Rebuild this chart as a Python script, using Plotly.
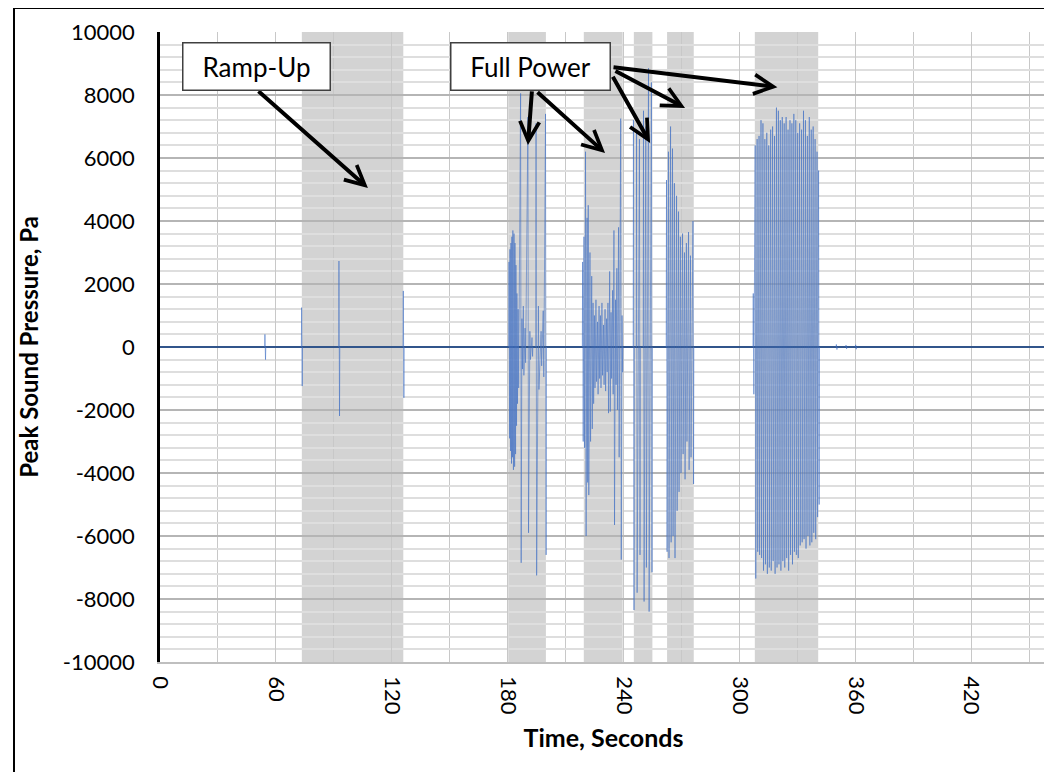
import plotly.graph_objects as go

# ---------------- data ----------------
# isolated / burst spikes of peak sound pressure (time s, positive peak Pa, negative peak Pa)
spike_times = [
    54.3, 73.3, 92.6, 125.9,
    180.6, 181.1, 181.6, 182.1, 182.6, 183.2, 183.7, 184.2, 184.7, 185.3,
    186.6, 187.3, 188.0, 188.9, 190.4, 191.4, 192.5, 194.6, 195.8, 197.2, 198.3, 199.5,
    218.7, 219.4, 220.2, 221.0, 221.6, 222.5, 223.4, 224.1, 224.8, 225.6, 226.4, 227.2,
    227.9, 228.7, 229.5, 230.3, 231.1, 231.8, 232.7, 233.4, 234.2, 234.9, 235.7, 236.4,
    237.3, 238.4, 239.1,
    245.0, 246.6, 248.1, 250.2, 251.4, 252.8, 254.3,
    262.1, 263.1, 264.2, 265.2, 266.2, 267.3, 268.3, 269.3, 270.4, 271.4, 272.4, 273.5,
    274.5, 275.8,
    307.0, 308.0, 309.0, 310.0, 311.0, 312.0, 313.0, 314.0, 315.0, 316.0, 317.0, 318.0,
    319.0, 320.0, 321.0, 322.0, 323.0, 324.0, 325.0, 326.0, 327.0, 328.0, 329.0, 330.0,
    331.0, 332.0, 333.0, 334.0, 335.0, 336.0, 337.0, 338.0, 339.0, 340.0, 340.8,
    350.0, 355.0, 360.0,
]
spike_pos = [
    400, 1250, 2730, 1780,
    2700, 3100, 3300, 3500, 3700, 3600, 3300, 2600, 1700, 1200,
    8050, 900, 1300, 600, 7300, 500, 300, 7100, 1300, 500, 1150, 7400,
    2700, 3500, 6200, 4100, 4500, 3000, 2250, 1400, 1000, 1500, 800, 1300,
    1000, 1400, 700, 1200, 900, 1400, 2400, 1100, 1800, 3700, 1500, 2500,
    3800, 7250, 1000,
    7200, 6900, 6600, 7500, 7000, 8850, 8400,
    5300, 6200, 7000, 6300, 5200, 4800, 4300, 3500, 3600, 3000, 3300, 3650,
    2900, 4000,
    1700, 6400, 6600, 6700, 7200, 7100, 6600, 6800, 6400, 6900, 7000, 6700,
    7600, 7500, 7200, 7300, 7100, 7300, 6900, 7200, 7100, 7400, 7200, 6800,
    7100, 6900, 7500, 7200, 6700, 7300, 6900, 7000, 6600, 6200, 5600,
    80, 60, 70,
]
spike_neg = [
    -400, -1240, -2190, -1610,
    -2900, -3300, -3700, -3500, -3900, -3800, -3400, -2500, -1800, -1300,
    -6850, -700, -900, -500, -5900, -400, -300, -7250, -1350, -600, -950, -6600,
    -3000, -3200, -6000, -4300, -4700, -3000, -2600, -1800, -1300, -1100, -1500, -1000,
    -1300, -900, -1200, -1400, -800, -2100, -2050, -1000, -1500, -5650, -1200, -2000,
    -3500, -6750, -800,
    -8350, -7800, -6600, -8080, -7000, -8400, -7150,
    -6500, -6700, -6200, -6000, -6700, -5200, -4600, -4000, -3400, -4200, -3000, -3900,
    -3500, -4350,
    -1500, -7350, -6500, -6600, -6700, -7100, -6900, -7200, -7000, -7100, -6800, -7200,
    -7000, -6900, -7100, -6800, -7000, -6700, -7100, -6600, -6900, -6500, -6600, -6700,
    -6300, -6200, -6100, -6400, -6000, -6300, -6200, -5900, -6100, -5400, -5000,
    -80, -60, -70,
]

# shaded operating periods (start s, end s)
band_starts = [73.4, 180.2, 219.3, 245.2, 262.4, 307.8]
band_ends = [125.9, 199.7, 239.4, 254.8, 276.2, 340.6]

x_max = 459
x_tick_vals = [0, 60, 120, 180, 240, 300, 360, 420]
x_tick_labels = ["0", "60", "120", "180", "240", "300", "360", "420"]
y_tick_vals = [-10000, -8000, -6000, -4000, -2000, 0, 2000, 4000, 6000, 8000, 10000]
y_tick_labels = [str(v) for v in y_tick_vals]

# annotation labels and arrows: (tail t, tail Pa, tip t, tip Pa)
label_texts = ["Ramp-Up", "Full Power"]
label_pos = [(49.9, 8890), (191.8, 8890)]
arrows = [
    (50.2, 8160, 107.6, 5050),
    (192.5, 8160, 190.4, 6410),
    (194.6, 8130, 230.3, 6160),
    (233.9, 8630, 253.6, 6480),
    (234.9, 8790, 271.7, 7590),
    (233.9, 8890, 319.5, 8250),
]

# ---------------- build trace ----------------
xs, ys = [0.0], [0.0]
n = len(spike_times)
for i, (t, p, q) in enumerate(zip(spike_times, spike_pos, spike_neg)):
    if i == 0 or t - spike_times[i - 1] > 1.5:
        xs.append(t - 0.15); ys.append(0)
    xs += [t, t + 0.3]
    ys += [p, q]
    if i == n - 1 or spike_times[i + 1] - t > 1.5:
        xs.append(t + 0.45); ys.append(0)
xs.append(x_max); ys.append(0)

FONT = "Lato"

fig = go.Figure()
fig.add_trace(go.Scatter(
    x=xs, y=ys, mode="lines",
    line=dict(color="rgba(68,114,196,0.58)", width=1),
    hoverinfo="skip", showlegend=False,
))

shapes = []
for a, b in zip(band_starts, band_ends):
    shapes.append(dict(type="rect", xref="x", yref="paper", x0=a, x1=b, y0=0, y1=1,
                       fillcolor="#d3d3d3", line=dict(width=0), layer="below"))
# outer frame
shapes.append(dict(type="rect", xref="paper", yref="paper", x0=-0.1646, x1=1.03,
                   y0=-0.3, y1=1.038, line=dict(color="black", width=2),
                   fillcolor="rgba(0,0,0,0)", layer="above"))

annotations = []
for (tx, ty, hx, hy) in arrows:
    annotations.append(dict(x=hx, y=hy, ax=tx, ay=ty, xref="x", yref="y",
                            axref="x", ayref="y", text="", showarrow=True,
                            arrowhead=5, arrowsize=0.95, arrowwidth=4,
                            arrowcolor="black", standoff=0, startstandoff=0))
for txt, (lx, ly) in zip(label_texts, label_pos):
    annotations.append(dict(x=lx, y=ly, xref="x", yref="y", text=txt, showarrow=False,
                            font=dict(family=FONT, size=26, color="black"),
                            bgcolor="white", bordercolor="#404040", borderwidth=1.5,
                            borderpad=2, width=142 if txt == "Ramp-Up" else 154, height=42))

# page body has an 8px margin: figure is laid out shifted by that amount
fig.update_layout(
    width=1044, height=764, autosize=False,
    margin=dict(l=152, r=5, t=24, b=110),
    paper_bgcolor="white", plot_bgcolor="white",
    font=dict(family=FONT, color="black"),
    shapes=shapes, annotations=annotations,
    showlegend=False,
    xaxis=dict(
        range=[0, x_max], tickmode="array", tickvals=x_tick_vals, ticktext=x_tick_labels,
        tickangle=90, tickfont=dict(family=FONT, size=22, color="black"),
        showgrid=True, gridcolor="#c8c8c8", gridwidth=1,
        minor=dict(dtick=30, showgrid=True, gridcolor="#c8c8c8", gridwidth=1),
        showline=True, linecolor="#bfbfbf", linewidth=1.5, zeroline=False,
        ticks="", ticklabelstandoff=8,
        title=dict(text="<b>Time, Seconds</b>", font=dict(family=FONT, size=25, color="black"),
                   standoff=16),
    ),
    yaxis=dict(
        range=[-10000, 10000], tickmode="array", tickvals=y_tick_vals, ticktext=y_tick_labels,
        tickfont=dict(family=FONT, size=22, color="black"),
        showgrid=True, gridcolor="#b5b5b5", gridwidth=1.5,
        minor=dict(dtick=400, showgrid=True, gridcolor="#dedede", gridwidth=1.5),
        showline=True, linecolor="black", linewidth=2.5,
        zeroline=True, zerolinecolor="#2b4a74", zerolinewidth=1.5,
        ticks="", ticklabelstandoff=18,
        title=dict(text="<b>Peak Sound Pressure, Pa</b>", font=dict(family=FONT, size=24, color="black"),
                   standoff=18),
    ),
)

fig.write_html("out.html")
